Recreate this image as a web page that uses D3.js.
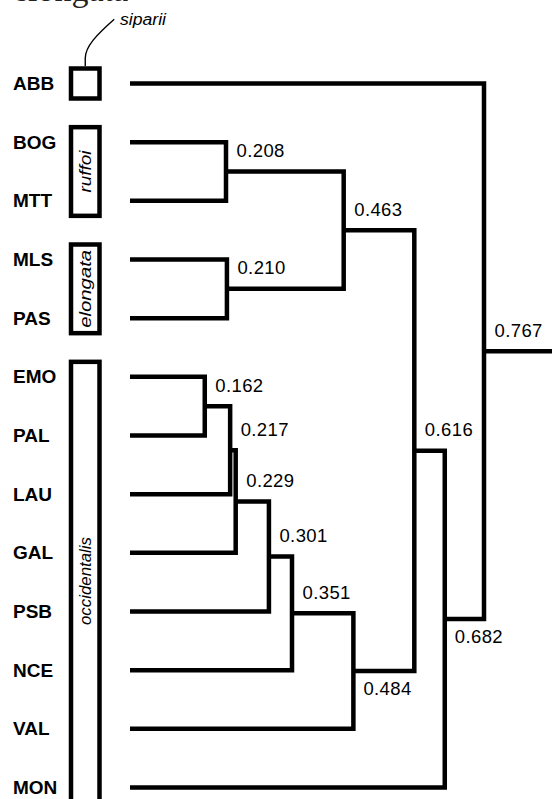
<!DOCTYPE html>
<html>
<head>
<meta charset="utf-8">
<script src="https://cdn.jsdelivr.net/npm/d3@7/dist/d3.min.js"></script>
<style>
  html, body { margin: 0; padding: 0; background: #fff; }
  svg { display: block; }
</style>
</head>
<body>
<script>
// Populations, top to bottom
const leaves = ["ABB", "BOG", "MTT", "MLS", "PAS", "EMO", "PAL", "LAU", "GAL", "PSB", "NCE", "VAL", "MON"];

// Agglomeration steps: node i joins mergeLeft[i] and mergeRight[i] at mergeHeight[i]
const mergeNames  = ["n1", "n2", "n3", "n4", "n5", "n6", "n7", "n8", "n9", "n10", "n11", "n12"];
const mergeLeft   = ["BOG", "MLS", "EMO", "n3", "n4", "n5", "n6", "n7", "n1", "n9", "n10", "ABB"];
const mergeRight  = ["MTT", "PAS", "PAL", "LAU", "GAL", "PSB", "NCE", "VAL", "n2", "n8", "MON", "n11"];
const mergeHeight = [0.208, 0.210, 0.162, 0.217, 0.229, 0.301, 0.351, 0.484, 0.463, 0.616, 0.682, 0.767];
const labelBelow  = [false, false, false, false, false, false, false, true, false, false, true, false];

// Taxon groups framing the leaf labels
const groupNames = ["siparii", "ruffoi", "elongata", "occidentalis"];
const groupFirst = ["ABB", "BOG", "MLS", "EMO"];
const groupLast  = ["ABB", "MTT", "PAS", "MON"];
const groupInside = [false, true, true, true];

const W = 552, H = 799;
const svg = d3.select("body").append("svg").attr("width", W).attr("height", H);

const y = d3.scalePoint().domain(leaves).range([83.5, 787.5]);
const x = d3.scaleLinear().domain([0, 0.767]).range([130, 484]);

// Resolve node positions
const pos = {};
leaves.forEach(l => { pos[l] = { x: x(0), y: y(l) }; });
mergeNames.forEach((n, i) => {
  const a = pos[mergeLeft[i]], b = pos[mergeRight[i]];
  pos[n] = { x: x(mergeHeight[i]), y: (a.y + b.y) / 2 };
});

const LW = 4.5;
const SANS = "'Liberation Sans', Arial, Helvetica, sans-serif";

// Partly visible heading above the tree
svg.append("text")
  .attr("x", 13).attr("y", 1)
  .attr("font-family", "'Liberation Serif', 'DejaVu Serif', serif")
  .attr("font-size", 34)
  .attr("fill", "#222")
  .text("elongata");

// Elbow connectors
const tree = svg.append("g")
  .attr("fill", "none").attr("stroke", "#000")
  .attr("stroke-width", LW).attr("stroke-linejoin", "miter").attr("stroke-linecap", "butt");

mergeNames.forEach((n, i) => {
  const a = pos[mergeLeft[i]], b = pos[mergeRight[i]], p = pos[n];
  const path = d3.path();
  path.moveTo(a.x, a.y);
  path.lineTo(p.x, a.y);
  path.lineTo(p.x, b.y);
  path.lineTo(b.x, b.y);
  tree.append("path").attr("d", path.toString());
});

// Root stem running off the right edge
const root = pos[mergeNames[mergeNames.length - 1]];
tree.append("path").attr("d", `M${root.x},${root.y}H${W + 10}`);

// Node height labels
svg.append("g")
  .attr("font-family", SANS)
  .attr("font-size", 18.5)
  .attr("letter-spacing", 0.4)
  .attr("fill", "#000")
  .selectAll("text")
  .data(mergeNames)
  .join("text")
  .attr("x", (n, i) => pos[n].x + (labelBelow[i] ? 10 : 10.5))
  .attr("y", (n, i) => pos[n].y + (labelBelow[i] ? 23.5 : -14.5))
  .text((n, i) => mergeHeight[i].toFixed(3));

// Leaf labels
svg.append("g")
  .attr("font-family", SANS)
  .attr("font-size", 19)
  .attr("font-weight", "bold")
  .attr("fill", "#000")
  .selectAll("text")
  .data(leaves)
  .join("text")
  .attr("x", 13)
  .attr("y", d => y(d) + 6.5)
  .text(d => d);

// Group frames
const bx0 = 71, bx1 = 99.5;
const lens = { ruffoi: 42, elongata: 78, occidentalis: 88 };
const groups = svg.append("g");
groupNames.forEach((g, i) => {
  const top = y(groupFirst[i]) - 15, bot = y(groupLast[i]) + 15;
  groups.append("rect")
    .attr("x", bx0).attr("y", top)
    .attr("width", bx1 - bx0).attr("height", bot - top)
    .attr("fill", "#fff").attr("stroke", "#000").attr("stroke-width", LW);
  if (groupInside[i]) {
    const cy = i === 3 ? 581 : (top + bot) / 2;
    groups.append("text")
      .attr("transform", `translate(${(bx0 + bx1) / 2 + 5.5},${cy}) rotate(-90)`)
      .attr("text-anchor", "middle")
      .attr("font-family", SANS)
      .attr("font-style", "italic")
      .attr("font-size", 16.5)
      .attr("textLength", lens[g])
      .attr("lengthAdjust", "spacingAndGlyphs")
      .attr("fill", "#000")
      .text(g);
  }
});

// Callout for the single-population group
const cx = (bx0 + bx1) / 2, ctop = y(groupFirst[0]) - 15 - LW / 2;
svg.append("path")
  .attr("d", `M${cx},${ctop} V${ctop - 8} C${cx},${ctop - 20} ${cx + 12},${ctop - 32} ${cx + 29},${ctop - 47}`)
  .attr("fill", "none").attr("stroke", "#000").attr("stroke-width", 1.4);
svg.append("text")
  .attr("x", 120).attr("y", 25)
  .attr("font-family", SANS)
  .attr("font-style", "italic")
  .attr("font-size", 16)
  .attr("textLength", 46)
  .attr("lengthAdjust", "spacingAndGlyphs")
  .attr("fill", "#000")
  .text(groupNames[0]);
</script>
</body>
</html>
